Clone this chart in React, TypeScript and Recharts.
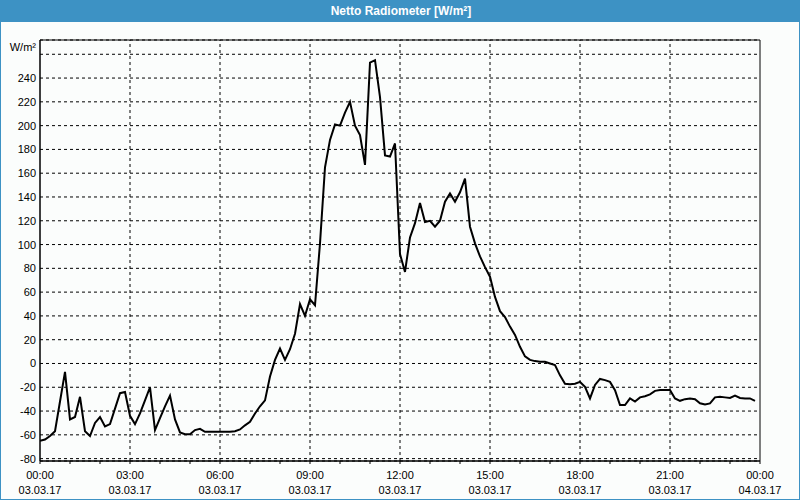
import React from "react";
import { LineChart, Line, XAxis, YAxis, CartesianGrid, ReferenceLine, ReferenceArea } from "recharts";

// minutes since 03.03.17 00:00
const minutes = [
  0, 10, 20, 30, 40, 50, 60, 70, 80, 90, 100, 110, 120, 130, 140, 150, 160, 170, 180, 190,
  200, 210, 220, 230, 240, 250, 260, 270, 280, 290, 300, 310, 320, 330, 340, 350, 360, 370, 380, 390,
  400, 410, 420, 430, 440, 450, 460, 470, 480, 490, 500, 510, 520, 530, 540, 550, 560, 570, 580, 590,
  600, 610, 620, 630, 640, 650, 660, 670, 680, 690, 700, 710, 720, 730, 740, 750, 760, 770, 780, 790,
  800, 810, 820, 830, 840, 850, 860, 870, 880, 890, 900, 910, 920, 930, 940, 950, 960, 970, 980, 990,
  1000, 1010, 1020, 1030, 1040, 1050, 1060, 1070, 1080, 1090, 1100, 1110, 1120, 1130, 1140, 1150, 1160, 1170, 1180, 1190,
  1200, 1210, 1220, 1230, 1240, 1250, 1260, 1270, 1280, 1290, 1300, 1310, 1320, 1330, 1340, 1350, 1360, 1370, 1380, 1390,
  1400, 1410, 1420, 1430,
];

const radiation = [
  -65, -64, -61, -57, -32, -7, -47, -45, -28, -57, -61, -50, -45, -53, -51, -38, -25, -24, -44, -51,
  -42, -31, -20, -56, -46, -36, -27, -47, -58, -59.5, -59.5, -56, -55, -57.5, -57.5, -57.5, -57.5, -57.5, -57.5, -57,
  -55.5, -52, -49, -42, -36, -31, -11, 3, 12.6, 3, 12, 25, 50, 40, 54, 49, 101, 165, 188, 201,
  200, 211, 220, 200, 192, 167, 253, 255, 224, 175, 174, 185, 92, 77, 106, 118, 135, 119, 120, 115,
  120, 136, 143, 136, 144, 155.5, 115, 101, 90, 81, 73, 56, 44, 39, 31, 24, 14, 6, 3, 2,
  1.5, 1.4, 0, -1.4, -10, -17, -17.4, -17, -15.5, -19.6, -29.4, -18, -13, -14, -15.5, -22.4, -35, -35, -29.4, -32,
  -28.5, -27.5, -26, -23, -22.4, -22.4, -22.4, -29.4, -31.4, -30, -29.4, -30, -33.5, -34.5, -33.6, -28.5, -28, -28.5, -29, -27,
  -29, -29.4, -29.4, -31.4,
];

const hourTicks = [0, 60, 120, 180, 240, 300, 360, 420, 480, 540, 600, 660, 720, 780, 840, 900, 960, 1020, 1080, 1140, 1200, 1260, 1320, 1380, 1440];
const labelTicks = [0, 180, 360, 540, 720, 900, 1080, 1260, 1440];
const timeLabels = ["00:00", "03:00", "06:00", "09:00", "12:00", "15:00", "18:00", "21:00", "00:00"];
const dateLabels = ["03.03.17", "03.03.17", "03.03.17", "03.03.17", "03.03.17", "03.03.17", "03.03.17", "03.03.17", "04.03.17"];
const innerGridX = [180, 360, 540, 720, 900, 1080, 1260];
const yTicks = [-80, -60, -40, -20, 0, 20, 40, 60, 80, 100, 120, 140, 160, 180, 200, 220, 240, 260];
const unitLabel = "W/m²";
const title = "Netto Radiometer [W/m²]";

const data = minutes.map((t, i) => ({ t, v: radiation[i] }));

const FONT = "'Liberation Sans', Arial, sans-serif";

const XTick = (props: any) => {
  const { x, y, payload } = props;
  const idx = labelTicks.indexOf(payload.value);
  if (idx < 0) return <g />;
  return (
    <g>
      <text x={x} y={y + 13} textAnchor="middle" fontSize={11} fontFamily={FONT} fill="#000">
        {timeLabels[idx]}
      </text>
      <text x={x} y={y + 28} textAnchor="middle" fontSize={11} fontFamily={FONT} fill="#000">
        {dateLabels[idx]}
      </text>
    </g>
  );
};

const YTick = (props: any) => {
  const { x, y, payload } = props;
  if (payload.value === 260) {
    return (
      <text x={x} y={y - 3} textAnchor="end" fontSize={11} fontFamily={FONT} fill="#000">
        {unitLabel}
      </text>
    );
  }
  return (
    <text x={x} y={y + 4} textAnchor="end" fontSize={11} fontFamily={FONT} fill="#000">
      {payload.value}
    </text>
  );
};

export default function App() {
  return (
    <div
      style={{
        position: "absolute",
        left: 0,
        top: 0,
        width: 800,
        height: 500,
        boxSizing: "border-box",
        background: "#fbfdfc",
        border: "1px solid #3d92c4",
        overflow: "hidden",
      }}
    >
      <div
        style={{
          position: "absolute",
          left: 0,
          top: 0,
          width: 800,
          height: 21,
          background: "#3d92c4",
          color: "#fff",
          fontFamily: FONT,
          fontWeight: "bold",
          fontSize: 12,
          lineHeight: "21px",
          textAlign: "center",
        }}
      >
        {title}
      </div>
      <div style={{ position: "absolute", left: -1, top: -1 }}>
        <LineChart width={800} height={500} data={data} margin={{ top: 40, right: 40, bottom: 0, left: 0 }}>
          <CartesianGrid vertical={false} stroke="#000" strokeDasharray="3 3" />
          <XAxis
            dataKey="t"
            type="number"
            domain={[0, 1440]}
            ticks={hourTicks}
            interval={0}
            height={39}
            tickSize={3}
            tickMargin={2}
            tickLine={{ stroke: "#000" }}
            axisLine={{ stroke: "#000" }}
            tick={<XTick />}
            allowDataOverflow
          />
          <YAxis
            type="number"
            domain={[-82, 272]}
            ticks={yTicks}
            interval={0}
            width={40}
            tickSize={0}
            tickMargin={4}
            tickLine={false}
            axisLine={{ stroke: "#000" }}
            tick={<YTick />}
            allowDataOverflow
          />
          {innerGridX.map((v) => (
            <ReferenceLine key={v} x={v} stroke="#000" strokeDasharray="3 3" />
          ))}
          <ReferenceArea x1={0} x2={1440} y1={-82} y2={272} fill="none" stroke="#000" strokeWidth={1} />
          <Line type="linear" dataKey="v" stroke="#000" strokeWidth={2} dot={false} isAnimationActive={false} />
        </LineChart>
      </div>
    </div>
  );
}
